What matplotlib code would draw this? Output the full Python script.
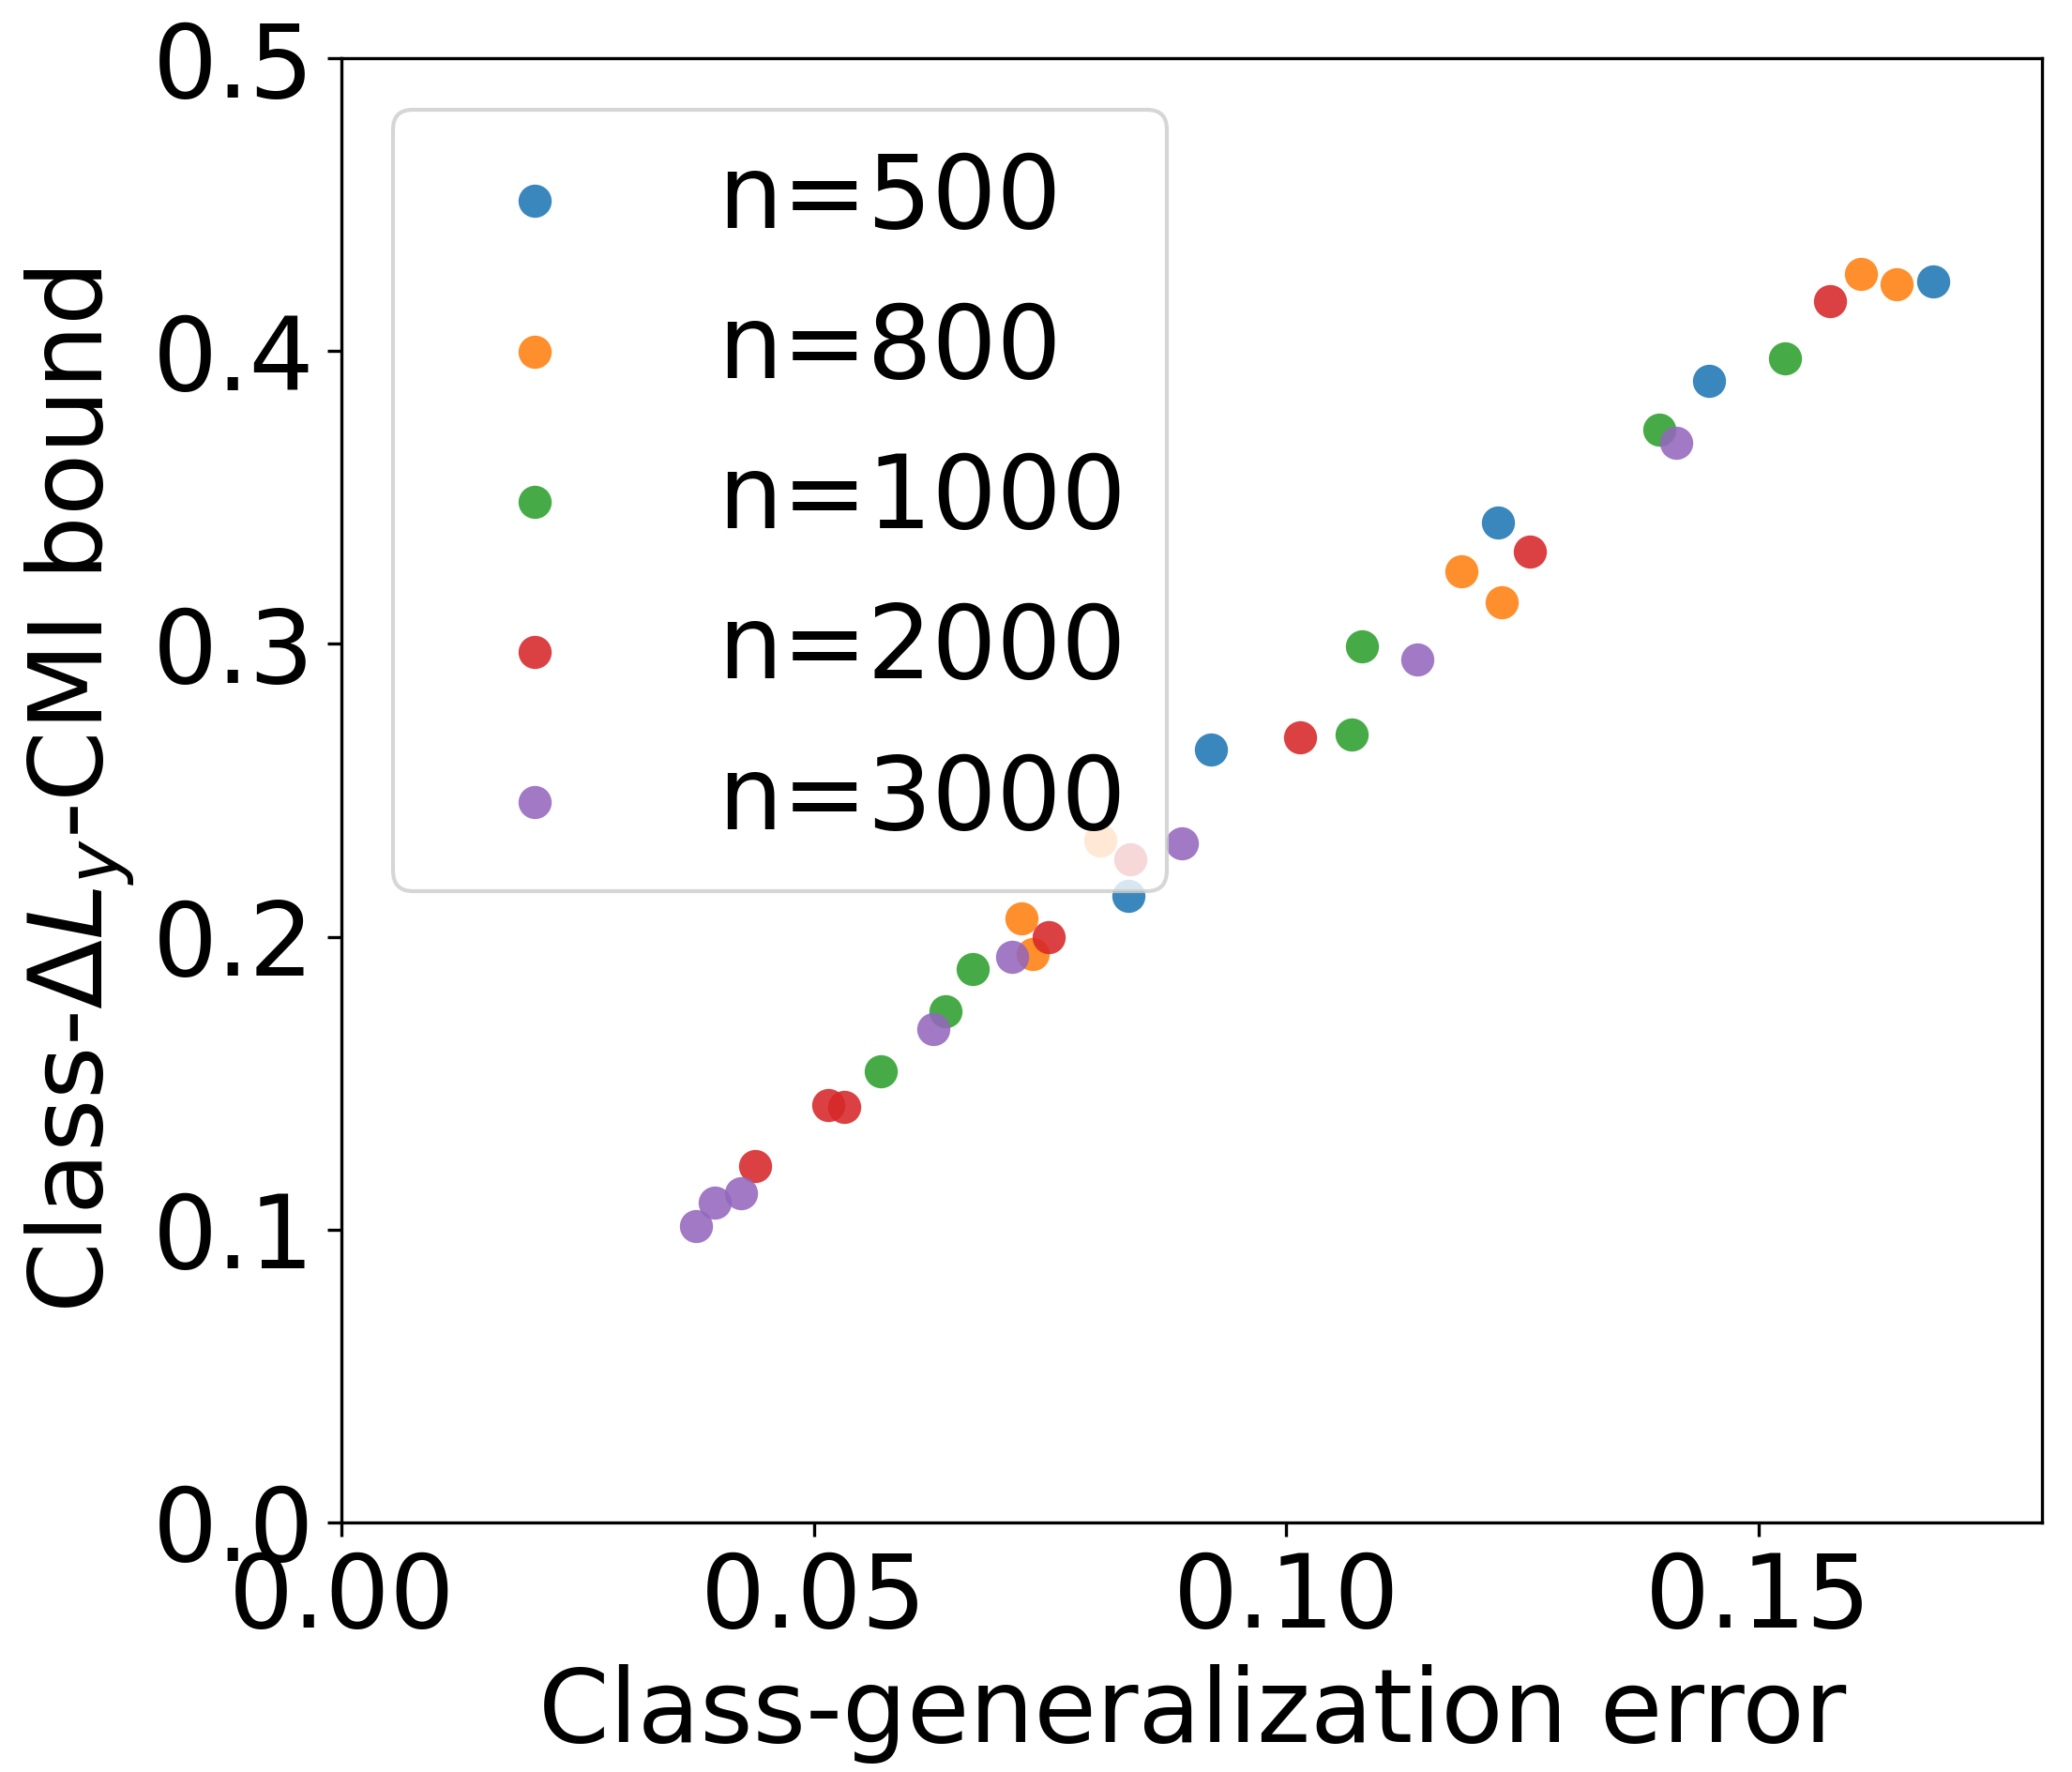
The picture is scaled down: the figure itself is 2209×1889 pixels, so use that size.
import matplotlib
matplotlib.use("Agg")
import matplotlib.pyplot as plt

# values
labels = ["n=500", "n=800", "n=1000", "n=2000", "n=3000"]

x_500 = [0.1685, 0.1447, 0.1224, 0.0920, 0.0833]
y_500 = [0.4237, 0.3900, 0.3416, 0.2640, 0.2139]

x_800 = [0.1608, 0.1646, 0.1185, 0.1228, 0.0720, 0.0731, 0.0803]
y_800 = [0.4264, 0.4228, 0.3249, 0.3141, 0.2062, 0.1940, 0.2329]

x_1000 = [0.1528, 0.1395, 0.1080, 0.1069, 0.0668, 0.0639, 0.0571]
y_1000 = [0.3976, 0.3732, 0.2992, 0.2690, 0.1891, 0.1746, 0.1539]

x_2000 = [0.1576, 0.1258, 0.1014, 0.0748, 0.0515, 0.0532, 0.0437, 0.0835]
y_2000 = [0.4170, 0.3317, 0.2680, 0.2000, 0.1426, 0.1417, 0.1218, 0.2265]

x_3000 = [0.1413, 0.1139, 0.0889, 0.0710, 0.0626, 0.0423, 0.0395, 0.0375]
y_3000 = [0.3687, 0.2947, 0.2319, 0.1931, 0.1683, 0.1124, 0.1092, 0.1011]

xs = [x_500, x_800, x_1000, x_2000, x_3000]
ys = [y_500, y_800, y_1000, y_2000, y_3000]

plt.rcParams['font.size'] = 26

fig = plt.figure(figsize=(2209 / 300, 1889 / 300), dpi=300)
ax = fig.add_axes([0.165, 0.141, 0.8205, 0.826])

for xv, yv, lab in zip(xs, ys, labels):
    ax.scatter(xv, yv, s=72, alpha=0.88, label=lab, linewidths=0)

ax.set_xlim(0, 0.18)
ax.set_ylim(0, 0.5)
ax.set_xticks([0.0, 0.05, 0.10, 0.15])
ax.set_yticks([0.0, 0.1, 0.2, 0.3, 0.4, 0.5])
ax.set_xlabel("Class-generalization error")
ax.set_ylabel(r"Class-$\Delta L_y$-CMI bound")
ax.legend(loc="upper left")

fig.savefig("out.png", dpi=300)
